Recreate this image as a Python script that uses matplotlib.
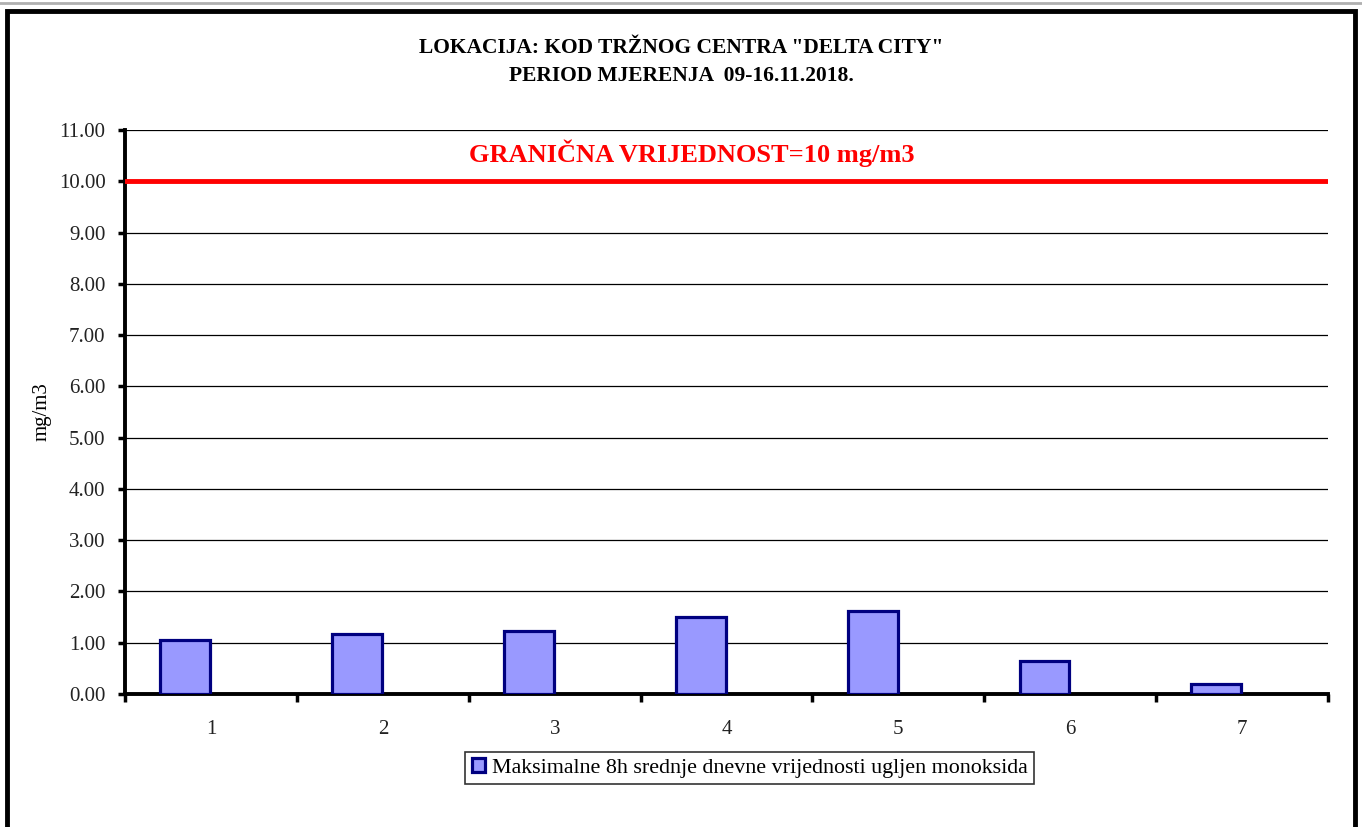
import matplotlib.pyplot as plt
from matplotlib.patches import Rectangle
import numpy as np

days = ['1', '2', '3', '4', '5', '6', '7']
co_max8h = [1.05, 1.17, 1.23, 1.50, 1.62, 0.64, 0.19]
limit = 10.0
y_ticks = np.arange(0, 12, 1)

plt.rcParams['font.family'] = ['Liberation Serif', 'DejaVu Serif']

fig = plt.figure(figsize=(13.62, 8.27), dpi=100)
fig.patch.set_facecolor('white')

# outer frame around the chart
fig.add_artist(Rectangle((0.0055, -0.05), 0.9895, 1.037, transform=fig.transFigure,
                         fill=False, edgecolor='black', linewidth=3.5))
fig.add_artist(plt.Line2D([0, 1], [0.996, 0.996], transform=fig.transFigure,
                          color='#b0b0b0', linewidth=2))

ax = fig.add_axes([0.0918, 0.1608, 0.8833, 0.682])

x = np.arange(len(days))
# bars sit left of the category centre (Excel-style clustered slot)
ax.bar(x - 0.15, co_max8h, width=0.29, color='#9999FF', edgecolor='#000080', linewidth=2.3,
       label='Maksimalne 8h srednje dnevne vrijednosti ugljen monoksida', zorder=3)
ax.axhline(limit, color='#FF0000', linewidth=3.5, zorder=4)

ax.set_xlim(-0.5, len(days) - 0.5)
ax.set_ylim(0, 11)
ax.set_yticks(y_ticks)
ax.set_yticklabels([f'{v:.2f}' for v in y_ticks], fontsize=15, color='#222222')
ax.yaxis.grid(True, color='black', linewidth=0.9)
ax.set_axisbelow(True)

# categories labelled at centre, tick marks at boundaries
ax.set_xticks(x)
ax.set_xticklabels(days, fontsize=15, color='#222222')
ax.tick_params(axis='x', which='major', length=0, pad=19)
ax.set_xticks(np.arange(-0.5, len(days)), minor=True)
ax.tick_params(axis='x', which='minor', length=6, width=2.5, direction='out')
ax.tick_params(axis='y', length=5, width=2.5, direction='out', pad=9)

for s in ['top', 'right']:
    ax.spines[s].set_visible(False)
ax.spines['left'].set_linewidth(2.8)
ax.spines['bottom'].set_linewidth(2.8)

ax.set_ylabel('mg/m3', fontsize=15, labelpad=5)

ax.text(0.471, 10.55, 'GRANIČNA VRIJEDNOST=10 mg/m3', transform=ax.get_yaxis_transform(),
        ha='center', va='center', color='#FF0000', fontsize=19, fontweight='bold')

fig.text(0.5, 0.942, 'LOKACIJA: KOD TRŽNOG CENTRA "DELTA CITY"', ha='center', va='center',
         fontsize=15.5, fontweight='bold')
fig.text(0.5, 0.908, 'PERIOD MJERENJA  09-16.11.2018.', ha='center', va='center',
         fontsize=15.5, fontweight='bold')

leg = fig.legend(loc='center', bbox_to_anchor=(0.5503, 0.0713), fontsize=15.8, frameon=True,
                 fancybox=False, edgecolor='black', handlelength=0.6, handleheight=0.6,
                 handletextpad=0.3, borderpad=0.3, borderaxespad=0.0)
leg.get_frame().set_linewidth(1.2)

fig.savefig('out.png', dpi=100)
